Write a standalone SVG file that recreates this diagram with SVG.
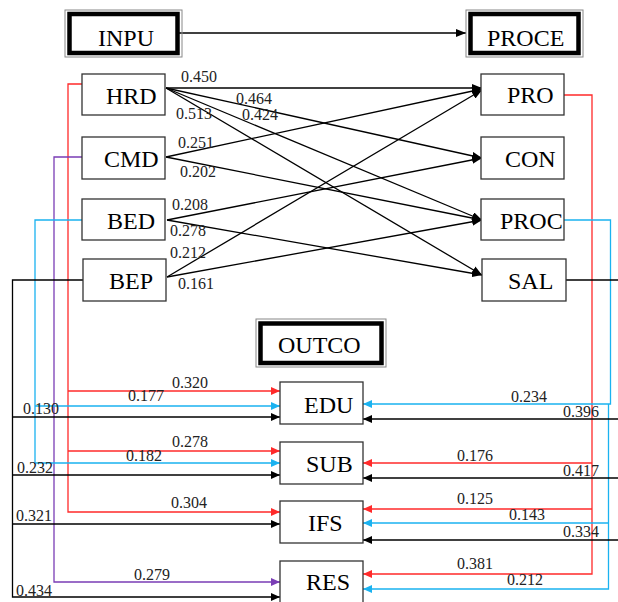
<svg xmlns="http://www.w3.org/2000/svg" width="618" height="602" viewBox="0 0 618 602">
<style>
.bx{fill:#fff;stroke:#333;stroke-width:1.3}
.ho{fill:none;stroke:#888;stroke-width:1}
.hi{fill:#fff;stroke:#000;stroke-width:4.5}
.nt{font-family:"Liberation Serif",serif;font-size:24px;fill:#000}
.lb{font-family:"Liberation Serif",serif;font-size:16px;fill:#222}
.k{fill:none;stroke:#000;stroke-width:1.3}
.r{fill:none;stroke:#ff2a2a;stroke-width:1.3}
.c{fill:none;stroke:#1ab2f0;stroke-width:1.3}
.p{fill:none;stroke:#7a3db5;stroke-width:1.3}
</style>
<defs>
<marker id="ab" markerWidth="10" markerHeight="8" refX="10" refY="4" orient="auto" markerUnits="userSpaceOnUse"><path d="M0,0 L10,4 L0,8 z" fill="#000"/></marker>
<marker id="ak" markerWidth="9" markerHeight="8" refX="9" refY="4" orient="auto" markerUnits="userSpaceOnUse"><path d="M0,0 L9,4 L0,8 z" fill="#000"/></marker>
<marker id="ar" markerWidth="9" markerHeight="8" refX="9" refY="4" orient="auto" markerUnits="userSpaceOnUse"><path d="M0,0 L9,4 L0,8 z" fill="#ff2a2a"/></marker>
<marker id="ac" markerWidth="9" markerHeight="8" refX="9" refY="4" orient="auto" markerUnits="userSpaceOnUse"><path d="M0,0 L9,4 L0,8 z" fill="#1ab2f0"/></marker>
<marker id="ap" markerWidth="9" markerHeight="8" refX="9" refY="4" orient="auto" markerUnits="userSpaceOnUse"><path d="M0,0 L9,4 L0,8 z" fill="#7a3db5"/></marker>
</defs>
<rect width="618" height="602" fill="#fff"/>
<g id="connectors">
<line class="k" x1="178" y1="33" x2="466" y2="33" marker-end="url(#ab)"/>
<line class="k" x1="166" y1="88" x2="482" y2="88" marker-end="url(#ab)"/>
<line class="k" x1="166" y1="88" x2="482" y2="158" marker-end="url(#ab)"/>
<line class="k" x1="166" y1="88" x2="482" y2="220" marker-end="url(#ab)"/>
<line class="k" x1="166" y1="88" x2="482" y2="275" marker-end="url(#ab)"/>
<line class="k" x1="166" y1="157" x2="482" y2="89" marker-end="url(#ab)"/>
<line class="k" x1="166" y1="157" x2="482" y2="220" marker-end="url(#ab)"/>
<line class="k" x1="167" y1="220" x2="482" y2="158" marker-end="url(#ab)"/>
<line class="k" x1="167" y1="220" x2="482" y2="275" marker-end="url(#ab)"/>
<line class="k" x1="167" y1="277" x2="482" y2="90" marker-end="url(#ab)"/>
<line class="k" x1="167" y1="277" x2="482" y2="220" marker-end="url(#ab)"/>
<path class="r" d="M82,84 H68 V512 H280" marker-end="url(#ar)"/>
<path class="r" d="M68,391 H280" marker-end="url(#ar)"/>
<path class="r" d="M68,451 H280" marker-end="url(#ar)"/>
<path class="p" d="M82,157 H54 V582 H280" marker-end="url(#ap)"/>
<path class="c" d="M82,220 H35 V463 H280" marker-end="url(#ac)"/>
<path class="c" d="M35,406 H280" marker-end="url(#ac)"/>
<path class="k" d="M83,280 H12.5 V597 H280" marker-end="url(#ak)"/>
<path class="k" d="M12.5,417 H280" marker-end="url(#ak)"/>
<path class="k" d="M12.5,475 H280" marker-end="url(#ak)"/>
<path class="k" d="M12.5,524 H280" marker-end="url(#ak)"/>
<path class="r" d="M564,95 H592 V574 H363" marker-end="url(#ar)"/>
<path class="r" d="M592,463 H363" marker-end="url(#ar)"/>
<path class="r" d="M592,509 H363" marker-end="url(#ar)"/>
<path class="c" d="M564,220 H610.5 V404 H363" marker-end="url(#ac)"/>
<path class="c" d="M608.5,404 V589 H363" marker-end="url(#ac)"/>
<path class="c" d="M608.5,523 H363" marker-end="url(#ac)"/>
<path class="k" d="M566,280 H618"/>
<path class="k" d="M618,419 H363" marker-end="url(#ak)"/>
<path class="k" d="M618,478 H363" marker-end="url(#ak)"/>
<path class="k" d="M618,540 H363" marker-end="url(#ak)"/>
</g>
<g id="labels">
<text class="lb" x="181" y="82">0.450</text>
<text class="lb" x="236" y="104">0.464</text>
<text class="lb" x="242" y="120">0.424</text>
<text class="lb" x="176" y="119">0.513</text>
<text class="lb" x="178" y="148">0.251</text>
<text class="lb" x="180" y="177">0.202</text>
<text class="lb" x="172" y="210">0.208</text>
<text class="lb" x="170" y="236">0.278</text>
<text class="lb" x="170" y="258">0.212</text>
<text class="lb" x="178" y="289">0.161</text>
<text class="lb" x="172" y="388">0.320</text>
<text class="lb" x="128" y="401">0.177</text>
<text class="lb" x="23" y="414">0.130</text>
<text class="lb" x="172" y="447">0.278</text>
<text class="lb" x="126" y="461">0.182</text>
<text class="lb" x="17" y="473">0.232</text>
<text class="lb" x="171" y="508">0.304</text>
<text class="lb" x="16" y="521">0.321</text>
<text class="lb" x="134" y="580">0.279</text>
<text class="lb" x="16" y="596">0.434</text>
<text class="lb" x="511" y="402">0.234</text>
<text class="lb" x="563" y="417">0.396</text>
<text class="lb" x="457" y="461">0.176</text>
<text class="lb" x="563" y="476">0.417</text>
<text class="lb" x="457" y="504">0.125</text>
<text class="lb" x="509" y="520">0.143</text>
<text class="lb" x="563" y="537">0.334</text>
<text class="lb" x="457" y="569">0.381</text>
<text class="lb" x="507" y="585">0.212</text>
</g>
<g id="INPU"><rect class="ho" x="65" y="10" width="117" height="47"/><rect class="hi" x="69.5" y="14" width="108" height="39"/><text class="nt" x="98" y="46">INPU</text></g>
<g id="PROCE"><rect class="ho" x="466" y="10" width="117" height="47"/><rect class="hi" x="470.5" y="14" width="108" height="39"/><text class="nt" x="487" y="46">PROCE</text></g>
<g id="OUTCO"><rect class="ho" x="256" y="319" width="130" height="48"/><rect class="hi" x="260.5" y="323.5" width="121" height="39.5"/><text class="nt" x="278" y="353">OUTCO</text></g>
<g id="HRD"><rect class="bx" x="82" y="74" width="83" height="41"/><text class="nt" x="106" y="104">HRD</text></g>
<g id="CMD"><rect class="bx" x="82" y="137" width="83" height="42"/><text class="nt" x="104" y="167">CMD</text></g>
<g id="BED"><rect class="bx" x="82" y="199" width="83" height="41"/><text class="nt" x="107" y="229">BED</text></g>
<g id="BEP"><rect class="bx" x="83" y="259" width="83" height="42"/><text class="nt" x="109" y="289">BEP</text></g>
<g id="PRO"><rect class="bx" x="481" y="74" width="83" height="41"/><text class="nt" x="507" y="103">PRO</text></g>
<g id="CON"><rect class="bx" x="481" y="137" width="83" height="42"/><text class="nt" x="505" y="167">CON</text></g>
<g id="PROC"><rect class="bx" x="481" y="199" width="83" height="41"/><text class="nt" x="500" y="229">PROC</text></g>
<g id="SAL"><rect class="bx" x="482" y="259" width="84" height="42"/><text class="nt" x="508" y="289">SAL</text></g>
<g id="EDU"><rect class="bx" x="280" y="382" width="83" height="42"/><text class="nt" x="304" y="413">EDU</text></g>
<g id="SUB"><rect class="bx" x="280" y="442" width="83" height="42"/><text class="nt" x="306" y="472">SUB</text></g>
<g id="IFS"><rect class="bx" x="280" y="501" width="83" height="42"/><text class="nt" x="308" y="531">IFS</text></g>
<g id="RES"><rect class="bx" x="280" y="561" width="83" height="45"/><text class="nt" x="306" y="590">RES</text></g>
</svg>
